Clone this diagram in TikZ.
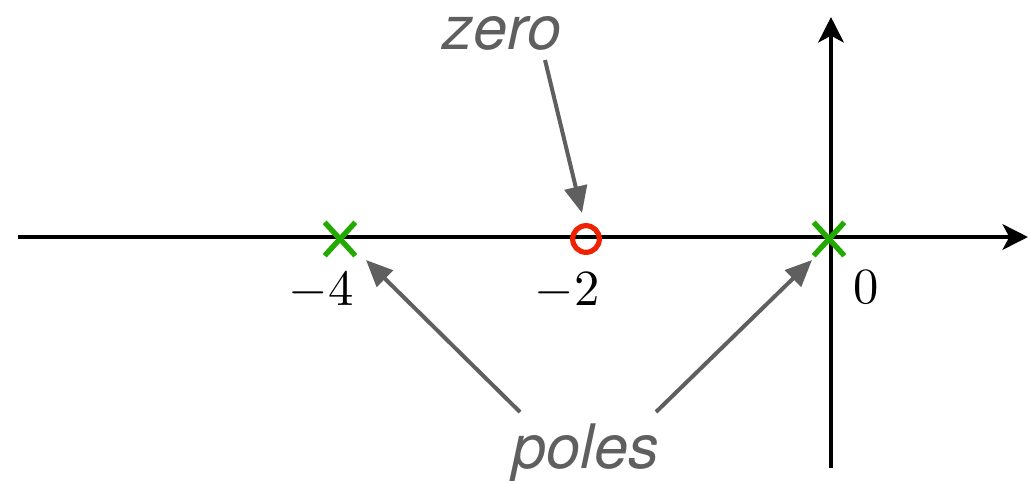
\documentclass[tikz,border=0pt]{standalone}
\usepackage{fontspec}
\newfontfamily\labfont{TeX Gyre Heros}
\usetikzlibrary{arrows.meta,shapes.misc}
\definecolor{pgray}{HTML}{5F5F5F}
\definecolor{pgreen}{HTML}{22AA00}
\definecolor{pred}{HTML}{EE2200}
\newcommand{\bignum}[1]{\scalebox{3.8}{$#1$}}
\tikzset{
  axis/.style={line width=3.5pt,black,-{Stealth[length=19pt,width=19pt,inset=5pt]}},
  pole/.style={cross out,draw=pgreen,line width=4pt,minimum width=19pt,minimum height=21pt,inner sep=0pt},
  zerom/.style={circle,draw=pred,line width=3.9pt,minimum size=20pt,inner sep=0pt},
  ptr/.style={line width=3pt,pgray,-{Triangle[length=20pt,width=17pt]}},
  lab/.style={font=\labfont\itshape\fontsize{46}{50}\selectfont,text=pgray,anchor=base,inner sep=0pt},
  num/.style={anchor=base,inner sep=0pt}
}
\begin{document}
\begin{tikzpicture}[x=0.75pt,y=-0.75pt]
\useasboundingbox (0,0) rectangle (1029,480);
\coordinate (xl) at (18,237);
\coordinate (xr) at (1028,237);
\coordinate (yb) at (831,468);
\coordinate (yt) at (831,17);
\draw[axis] (xl) -- (xr);
\draw[axis] (yb) -- (yt);
\node[pole] (p4) at (340,239) {};
\node[pole] (p0) at (829,239) {};
\node[zerom] (z2) at (586,239) {};
\node[num] (l4) at (321,305) {\bignum{-4}};
\node[num] (l2) at (567,305) {\bignum{-2}};
\node[num] (l0) at (866,303) {\bignum{0}};
\node[lab] (zt) at (502,49) {zero};
\node[lab] (pt) at (586,468) {poles};
\coordinate (zs) at (545,60);
\coordinate (ze) at (582,213);
\draw[ptr] (zs) -- (ze);
\coordinate (ps1) at (520,412);
\coordinate (pe1) at (366,260);
\draw[ptr] (ps1) -- (pe1);
\coordinate (ps2) at (656,412);
\coordinate (pe2) at (812,260);
\draw[ptr] (ps2) -- (pe2);
\end{tikzpicture}
\end{document}
